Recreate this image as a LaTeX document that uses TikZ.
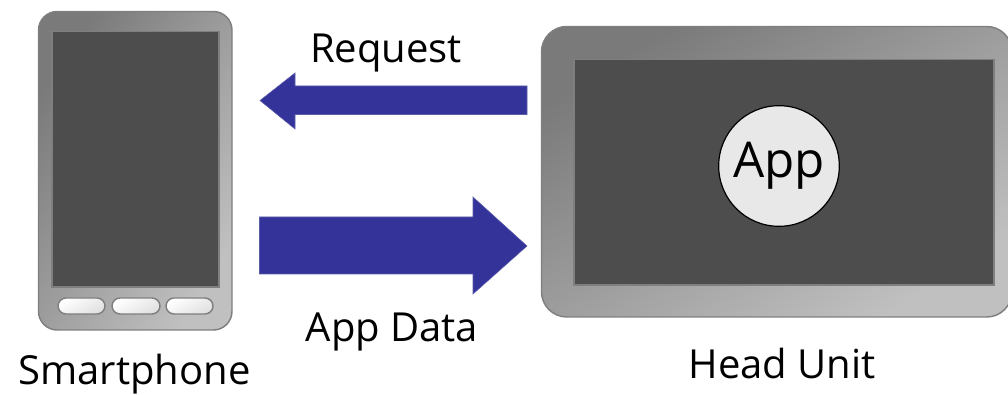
\documentclass[tikz,border=0pt]{standalone}
\usepackage{fontspec}
\setmainfont{Open Sans}
\definecolor{blk}{HTML}{333399}
\definecolor{scr}{HTML}{4D4D4D}
\definecolor{edge}{HTML}{7F7F7F}
\definecolor{bodyhi}{HTML}{7A7A7A}
\definecolor{bodylo}{HTML}{C0C0C0}
\tikzset{
  body/.style={draw=edge,line width=1.1pt,top color=bodyhi,bottom color=bodylo,shading angle=#1},
  screen/.style={fill=scr,draw=edge,line width=1.1pt},
  btn/.style={draw=edge,line width=1.1pt,rounded corners=6pt,top color=white,bottom color=black!12,shading angle=30},
  flow/.style={fill=blk,draw=blk!80!white,line width=.4pt},
  label/.style={inner sep=0pt,font=\fontsize{30}{36}\selectfont,anchor=base,text=black}
}
\begin{document}
\begin{tikzpicture}[x=.75pt,y=-.75pt]
\useasboundingbox (0,0) rectangle (1008,395);
% smartphone
\draw[body=58,rounded corners=14pt] (38.5,11.5) rectangle (232,330);
\draw[screen] (52,31.5) rectangle (219,287);
\draw[btn] (58,298) rectangle (105,314);
\draw[btn] (112,298) rectangle (160,314);
\draw[btn] (166,298) rectangle (213,314);
% head unit
\draw[body=32,rounded corners=19pt] (541.5,26.5) rectangle (1012,317);
\draw[screen] (574,59.5) rectangle (994,285);
\node[circle,draw=black,line width=.9pt,fill=black!9,minimum size=90.5pt,inner sep=0pt] (app) at (779,166) {};
% arrows
\filldraw[flow] (527,86) -- (295,86) -- (295,73) -- (260,100.5) -- (295,129) -- (295,114.5) -- (527,114.5) -- cycle;
\filldraw[flow] (259.5,217) -- (473,217) -- (473,197) -- (527,246) -- (473,294) -- (473,274) -- (259.5,274) -- cycle;
% labels
\node[label,font=\fontsize{37}{44}\selectfont] (applabel) at (779,178) {App};
\node[label] (request) at (386,63) {Request};
\node[label] (appdata) at (392,342) {App Data};
\node[label] (phone) at (134.5,384.5) {Smartphone};
\node[label] (headunit) at (782,379) {Head Unit};
\end{tikzpicture}
\end{document}
